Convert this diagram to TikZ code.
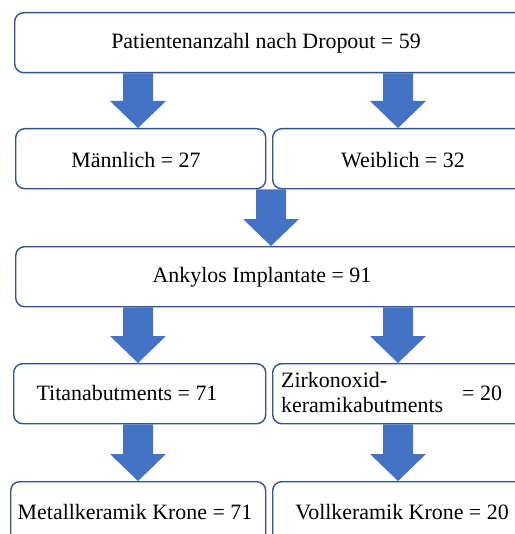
\documentclass[tikz,border=0pt]{standalone}
\usepackage{fontspec}
\setmainfont{Liberation Serif}
\usetikzlibrary{calc}
\definecolor{boxline}{HTML}{2F5597}
\definecolor{arrfill}{HTML}{4472C4}
\newcommand\blockarr[2]{%
  \fill[arrfill] ($(#1)+(-15,0)$) -- ($(#2)+(-15,27)$) -- ($(#2)+(-28,27)$) -- (#2)
    -- ($(#2)+(28,27)$) -- ($(#2)+(15,27)$) -- ($(#1)+(15,0)$) -- cycle;}
\begin{document}
\begin{tikzpicture}[x=1bp,y=1bp,
  box/.style={draw=boxline, line width=1.4bp, rounded corners=9bp, fill=white,
    anchor=north west, inner sep=0pt},
  txt/.style={font=\fontsize{22}{25}\selectfont, inner sep=0pt, text=black}]
\useasboundingbox (0,0) rectangle (515,-534);
\clip (0,0) rectangle (515,-534);
% boxes
\node[box, minimum width=540bp, minimum height=60bp] (top) at (14,-12) {};
\node[box, minimum width=250bp, minimum height=60bp] (m) at (15,-128) {};
\node[box, minimum width=270bp, minimum height=60bp] (w) at (272,-128) {};
\node[box, minimum width=540bp, minimum height=60bp] (ank) at (15,-246) {};
\node[box, minimum width=252bp, minimum height=60bp] (ti) at (13,-363) {};
\node[box, minimum width=270bp, minimum height=60bp] (zr) at (272,-363) {};
\node[box, minimum width=255bp, minimum height=80bp] (mk) at (10,-481) {};
\node[box, minimum width=270bp, minimum height=80bp] (vk) at (272,-481) {};
% texts
\node[txt] (ttop) at (266,-43) {Patientenanzahl nach Dropout = 59};
\node[txt] (tm) at (136,-160) {Männlich = 27};
\node[txt] (tw) at (403,-160) {Weiblich = 32};
\node[txt] (tank) at (262,-277) {Ankylos Implantate = 91};
\node[txt] (tti) at (127,-393) {Titanabutments = 71};
\node[txt, anchor=west] (tzr1) at (281,-380) {Zirkonoxid-};
\node[txt, anchor=west] (tzr2) at (281,-405) {keramikabutments};
\node[txt, anchor=west] (tzr3) at (462,-393) {= 20};
\node[txt] (tmk) at (135,-512) {Metallkeramik Krone = 71};
\node[txt] (tvk) at (402,-512) {Vollkeramik Krone = 20};
% arrow coordinates
\coordinate (a1s) at (138,0 |- top.south);
\coordinate (a1e) at (138,0 |- m.north);
\coordinate (a2s) at (398,0 |- top.south);
\coordinate (a2e) at (398,0 |- w.north);
\coordinate (a3s) at (271,0 |- m.south);
\coordinate (a3e) at (271,0 |- ank.north);
\coordinate (a4s) at (138,0 |- ank.south);
\coordinate (a4e) at (138,0 |- ti.north);
\coordinate (a5s) at (398,0 |- ank.south);
\coordinate (a5e) at (398,0 |- zr.north);
\coordinate (a6s) at (138,0 |- ti.south);
\coordinate (a6e) at (138,0 |- mk.north);
\coordinate (a7s) at (398,0 |- zr.south);
\coordinate (a7e) at (398,0 |- vk.north);
\blockarr{a1s}{a1e}
\blockarr{a2s}{a2e}
\blockarr{a3s}{a3e}
\blockarr{a4s}{a4e}
\blockarr{a5s}{a5e}
\blockarr{a6s}{a6e}
\blockarr{a7s}{a7e}
\end{tikzpicture}
\end{document}
